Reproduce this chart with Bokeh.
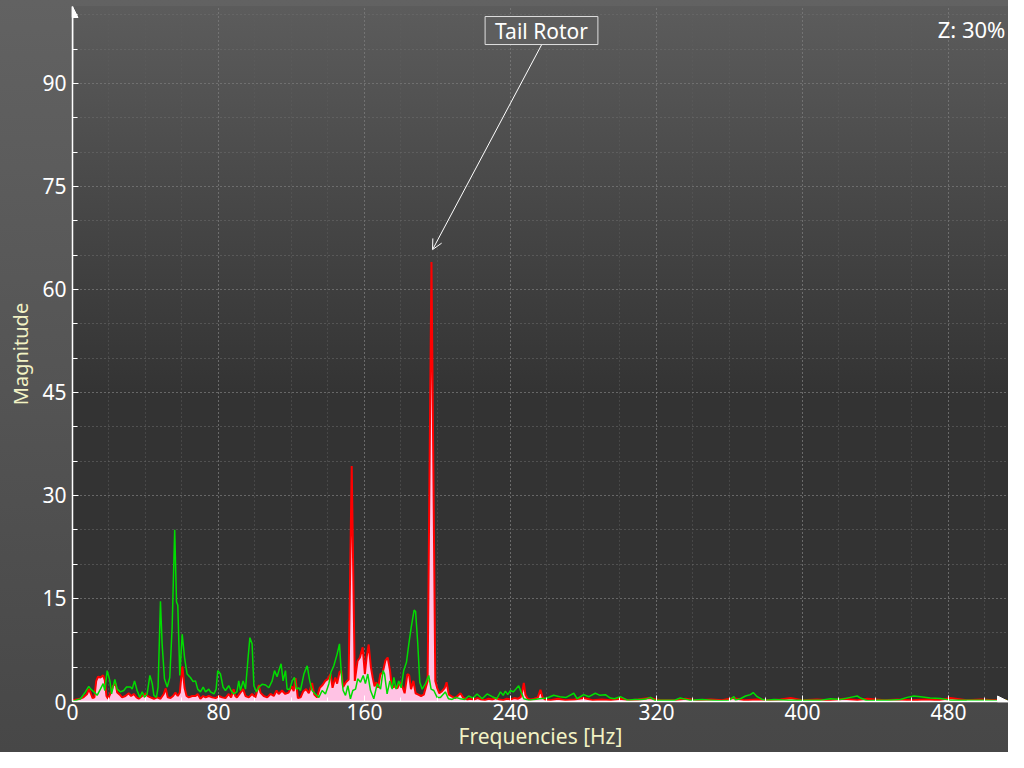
from bokeh.plotting import figure
from bokeh.models import (Range1d, SingleIntervalTicker, Label, Arrow, NormalHead, OpenHead)
from bokeh.embed import file_html
from bokeh.resources import INLINE

# ---- data ----
red_hz = [0, 2, 4, 6, 8, 9, 10, 11, 12, 13, 14, 15.3, 16.8, 17.7, 18.6, 19.5, 20.8, 22.3, 23.6, 24.5,
          25.9, 27.2, 29, 30.8, 32.1, 33.6, 35.1, 36.3, 38.2, 40, 41.3, 42.7, 44.6, 46.4, 48.2, 50, 51.1,
          52.2, 53.7, 55.1, 56.4, 57.7, 58.8, 60.2, 61.4, 62.5, 63.7, 65.6, 67.4, 68.6, 70.1, 71.6, 72.9,
          74.7, 76.5, 78.4, 80.2, 82, 83.8, 85.6, 86.9, 88.3, 89.2, 90.1, 92, 93.5, 94.8, 96.6, 98.4,
          100.2, 102.1, 103, 104.8, 106.7, 108.5, 110.3, 111.8, 113, 114.8, 116.6, 118.4, 120.2, 121.2,
          122.2, 123.5, 125, 126.5, 128, 129.5, 131.3, 132.5, 134, 135.5, 137, 138.5, 140, 141.4, 142.5,
          144, 145, 146.3, 147.3, 148.3, 149.8, 151.3, 153.0, 154.7, 156.2, 157.5, 159, 160.2, 161.2,
          162.3, 163.5, 164.5, 165.5, 166.5, 167.5, 168.7, 170, 171.5, 172.7, 174, 175, 176.5, 178,
          179.5, 181, 182, 183.5, 184.5, 185.5, 186.8, 188, 189.5, 191, 192.5, 194.6, 196.7, 198.8,
          199.8, 201, 202.5, 204, 205, 206.2, 208, 209.8, 211, 212.6, 214, 216.2, 218, 220, 222, 224,
          226, 228, 230, 232, 234, 236, 238, 240, 242, 244, 245.5, 246.5, 247.3, 248.2, 249.5, 251, 253,
          255, 256.4, 257.6, 259, 262, 266, 270, 275, 280, 285, 290, 295, 300, 305, 310, 316, 322, 330,
          336, 342, 350, 356, 362, 368, 375, 382, 388, 393.5, 400, 408, 415, 423, 430, 435.5, 445, 452,
          460, 468, 475, 481, 490, 498, 505, 512]
red_mag = [0.2, 0.3, 0.4, 0.6, 1.1, 1.8, 1.2, 0.5, 0.6, 3.0, 3.6, 3.5, 3.8, 3.1, 0.8, 0.4, 1.2, 2.3, 2.6, 1.3,
           1.0, 0.6, 0.8, 1.2, 0.8, 1.1, 0.6, 0.4, 0.8, 1.1, 0.8, 0.6, 0.4, 0.6, 0.4, 1.1, 1.9,
           0.6, 0.5, 0.8, 1.3, 0.8, 1.3, 5.1, 2.0, 0.8, 0.6, 0.8, 0.8, 1.1, 0.4, 0.8, 0.6,
           0.8, 0.6, 0.5, 0.8, 0.6, 0.5, 1.1, 0.6, 1.8, 0.8, 0.6, 1.3, 1.8, 0.8, 0.6, 1.1,
           0.6, 2.4, 1.3, 0.8, 0.6, 1.1, 0.8, 1.6, 1.1, 1.6, 1.1, 1.3, 2.2, 1.5,
           3.4, 0.5, 0.6, 1.5, 1.8, 1.2, 2.7, 1.0, 0.6, 2.0, 2.4, 3.0, 3.3, 4.0, 2.0,
           3.5, 2.6, 4.3, 4.5, 2.1, 2.8, 3.2, 34.3, 3.0, 5.9, 6.4, 7.9, 4.0, 6.5,
           8.3, 5.0, 3.5, 2.2, 2.8, 2.0, 4.0, 4.2, 6.0, 6.4, 4.5, 2.0, 2.2, 1.9,
           2.8, 2.0, 1.2, 4.0, 3.8, 1.8, 3.0, 1.2, 1.0, 0.8, 1.0, 3.0, 64.0, 3.0,
           2.0, 1.2, 1.5, 2.0, 2.8, 1.0, 0.7, 0.5, 0.8, 1.2, 0.6, 0.3, 0.4, 0.3, 0.5, 0.3,
           0.2, 0.4, 0.3, 0.5, 0.3, 0.2, 0.4, 0.3, 0.5, 0.4, 0.6, 1.5, 2.7, 1.0, 0.4, 0.3, 0.4,
           0.6, 1.7, 0.6, 0.3, 0.2, 0.4, 0.2, 0.3, 0.5, 0.2, 0.3, 0.2, 0.4, 0.2, 0.3, 0.5, 0.2, 0.2,
           0.4, 0.2, 0.3, 0.2, 0.5, 0.2, 0.3, 0.2, 0.3, 0.5, 0.2, 0.3, 0.2, 0.4, 0.2, 0.4, 0.2, 0.3,
           0.2, 0.3, 0.2, 0.5, 0.2, 0.3, 0.2, 0.2]

green_hz = [0, 2, 4.4, 7.1, 8.9, 10, 11.7, 13.5, 15.3, 16.8, 17.7, 19.0, 20.5, 21.4, 23.2, 24.5, 26.3, 28.1,
            29.6, 31.8, 32.7, 34.0, 35.4, 36.9, 38.2, 39.5, 40.9, 42.4, 43.7, 44.6, 46.0, 46.9, 48.2, 49.1,
            50.4, 51.9, 53.3, 54.6, 56.0, 57.0, 57.7, 58.8, 60.1, 61.4, 62.8, 64.6, 66.1, 67.4, 68.6, 70.1,
            71.6, 72.9, 74.7, 75.6, 77.5, 78.7, 79.6, 81.1, 82.5, 83.8, 85.6, 86.9, 88.3, 90.1, 91.1, 92.0,
            93.5, 94.8, 96.1, 97.2, 98.4, 99.4, 100.8, 102.1, 103.9, 105.8, 107.6, 109.4, 110.7, 112.1,
            113.1, 114.3, 115.4, 116.7, 117.6, 119.1, 120.4, 121.6, 122.7, 124.0, 124.9, 126.8, 128.6,
            130.0, 131.3, 133.1, 135.0, 136.8, 138.6, 140.5, 141.7, 143.2, 145.0, 146.3, 147.2, 148.3,
            149.6, 150.9, 152.3, 153.6, 155.1, 156.3, 157.8, 159.3, 160.5, 161.8, 163.3, 165.1, 167.0,
            168.8, 170.2, 171.0, 172.4, 173.9, 175.2, 176.1, 177.3, 178.8, 180.1, 181.5, 183.0, 184.3,
            185.6, 187.2, 188.0, 189.2, 190.3, 191.6, 193.4, 195.2, 196.5, 198.0, 199.8, 201.6, 204.3,
            206, 208, 210, 212.5, 215, 217.1, 219.5, 221.7, 224.5, 227.2, 230, 232.5, 234.5, 236, 237.2,
            238.5, 240, 241.5, 243.2, 244.5, 245.8, 247.3, 250, 253, 256, 260, 263.7, 267, 270.5, 274.7,
            276.5, 280.1, 283, 286.5, 289, 292, 294.7, 297, 300.2, 304, 308, 312, 314, 316.7, 319, 325,
            330, 333, 338, 345, 350, 355, 360, 362.4, 363.3, 366, 368.8, 371.5, 373, 375.2, 377.9, 380.6,
            384.3, 392, 400.7, 410, 415.4, 420.9, 426.3, 430, 431.8, 435.5, 441, 446.4, 453.7, 457.4, 461,
            464.7, 470, 475.6, 481, 490, 501, 508, 512]
green_mag = [0, 0.2, 0.4, 1.4, 2.2, 1.8, 1.4, 0.9, 1.8, 2.6, 1.6, 4.5, 3.0, 1.1, 3.2, 1.8, 1.4, 1.6,
             2.1, 2.1, 1.8, 3.0, 1.6, 0.6, 1.4, 0.6, 1.1, 3.8, 2.6, 0.9, 0.6, 2.1, 14.6, 8.4,
             3.3, 2.1, 3.5, 10.8, 25.0, 14.5, 14.0, 3.8, 9.8, 6.4, 4.0, 3.5, 2.9, 3.0, 1.8, 1.4,
             2.1, 1.4, 1.8, 1.4, 1.1, 1.8, 4.5, 4.0, 2.1, 1.6, 2.3, 1.6, 1.1, 1.4, 3.0, 1.6,
             3.0, 1.8, 6.0, 9.3, 8.4, 2.3, 1.4, 2.1, 2.5, 2.4, 2.0, 3.0, 4.5, 3.6,
             4.5, 5.5, 3.0, 4.5, 1.8, 1.8, 3.0, 3.5, 1.8, 2.0, 1.6, 4.0, 5.2,
             3.0, 1.6, 1.1, 0.6, 1.6, 1.1, 2.6, 4.3, 5.2, 6.9, 8.4, 4.5, 1.6,
             0.9, 2.3, 0.4, 1.6, 1.8, 3.3, 2.8, 3.8, 2.6, 4.0, 1.6, 0.4, 2.6,
             1.8, 4.5, 4.0, 1.1, 3.0, 1.8, 3.5, 1.8, 3.0, 2.0, 4.5, 5.7, 8.4,
             10.8, 13.3, 13.1, 8.4, 2.8, 1.8, 2.6, 3.8, 1.8, 1.6, 0.6, 0.6, 1.4,
             0.4, 0.3, 0.6, 0.4, 0.3, 0.8, 0.5, 1.1, 0.4, 1.1, 0.7, 0.4, 1.4, 0.9, 1.5,
             1.0, 1.6, 1.4, 1.9, 2.3, 1.4, 0.4, 0.2, 0.3, 0.4, 0.5, 0.9, 0.7, 0.6, 1.2,
             0.4, 1.0, 0.7, 1.2, 0.9, 1.0, 0.5, 0.4, 0.7, 0.2, 0.3, 0.3, 0.35, 0.6, 0.2, 0.2,
             0.2, 0.5, 0.2, 0.3, 0.2, 0.1, 0.2, 0.7, 0.2, 0.4, 0.8, 1.0, 1.3, 0.7, 0.3, 0.2,
             0.3, 0.2, 0.2, 0.2, 0.4, 0.3, 0.6, 0.8, 0.5, 0.1, 0.2, 0.2, 0.3, 0.6, 0.8,
             0.7, 0.5, 0.45, 0.2, 0.2, 0.2, 0.1, 0.2]

x_max = 512.9
y_max = 101.2

FONT = "Noto Sans"

p = figure(width=1008, height=752, output_backend="svg", toolbar_location=None,
           x_range=Range1d(0, x_max), y_range=Range1d(0, y_max),
           min_border_left=72, min_border_right=0, min_border_top=6, min_border_bottom=51)

p.border_fill_color = None
p.background_fill_color = None
p.outline_line_color = None
p.styles = {
    "background": ("linear-gradient(180deg, #5c5c5c 0px, #333333 390px, #333333 695px) "
                   "72px 6px / 936px 695px no-repeat, linear-gradient(180deg, #626262, #474747)")
}

# axes
p.xaxis.ticker = SingleIntervalTicker(interval=80, num_minor_ticks=4)
p.yaxis.ticker = SingleIntervalTicker(interval=15, num_minor_ticks=3)
for ax in (p.xaxis, p.yaxis):
    ax.axis_line_color = "white"
    ax.axis_line_width = 1.5
    ax.major_tick_line_color = "white"
    ax.minor_tick_line_color = "white"
    ax.major_tick_in = 6
    ax.major_tick_out = 0
    ax.minor_tick_in = 4
    ax.minor_tick_out = 0
    ax.major_label_text_color = "white"
    ax.major_label_text_font = FONT
    ax.major_label_text_font_size = "21px"
    ax.axis_label_text_color = "#f2f2c4"
    ax.axis_label_text_font = FONT
    ax.axis_label_text_font_style = "normal"
p.yaxis.minor_tick_in = 5
p.xaxis.major_label_standoff = 2
p.yaxis.major_label_standoff = 6
p.xaxis.axis_label = "Frequencies [Hz]"
p.xaxis.axis_label_text_font_size = "21px"
p.xaxis.axis_label_standoff = -1
p.yaxis.axis_label = "Magnitude"
p.yaxis.axis_label_text_font_size = "20px"
p.yaxis.axis_label_standoff = 5

# grid
p.xgrid.grid_line_color = "#8c8c8c"
p.xgrid.grid_line_dash = "1 3"
p.xgrid.minor_grid_line_color = "#5e5e5e"
p.xgrid.minor_grid_line_dash = "1 3"
p.ygrid.grid_line_color = "#7e7e7e"
p.ygrid.grid_line_dash = "1 3"
p.ygrid.minor_grid_line_color = "#707070"
p.ygrid.minor_grid_line_dash = "1 3"

# series
p.varea(x=red_hz, y1=0, y2=red_mag, fill_color="#ffc2e4")
p.line(red_hz, red_mag, line_color="#ff0000", line_width=2)
p.line(green_hz, green_mag, line_color="#00dd00", line_width=1.5)

# axis arrows
p.add_layout(Arrow(end=NormalHead(size=11, fill_color="white", line_color="white"),
                   x_start=490, y_start=0, x_end=x_max, y_end=0,
                   line_color="white", line_width=1.5))
p.add_layout(Arrow(end=NormalHead(size=11, fill_color="white", line_color="white"),
                   x_start=0, y_start=90, x_end=0, y_end=y_max,
                   line_color="white", line_width=1.5))

# annotations
p.add_layout(Label(x=257.0, y=97.7, text="Tail Rotor", text_align="center", text_baseline="middle",
                   text_font=FONT, text_font_size="21px", text_color="white",
                   border_line_color="#e0e0e0", border_line_width=1,
                   background_fill_color="#5e5e5e",
                   padding=dict(left=10, right=10, top=0, bottom=0)))
p.add_layout(Arrow(end=OpenHead(size=10, line_color="white", line_width=1),
                   x_start=257.0, y_start=95.6, x_end=197.3, y_end=65.8,
                   line_color="white", line_width=1))
p.add_layout(Label(x=511.2, y=97.9, text="Z: 30%", text_align="right", text_baseline="middle",
                   text_font=FONT, text_font_size="22px", text_color="white"))

open("out.html", "w").write(file_html(p, INLINE))
